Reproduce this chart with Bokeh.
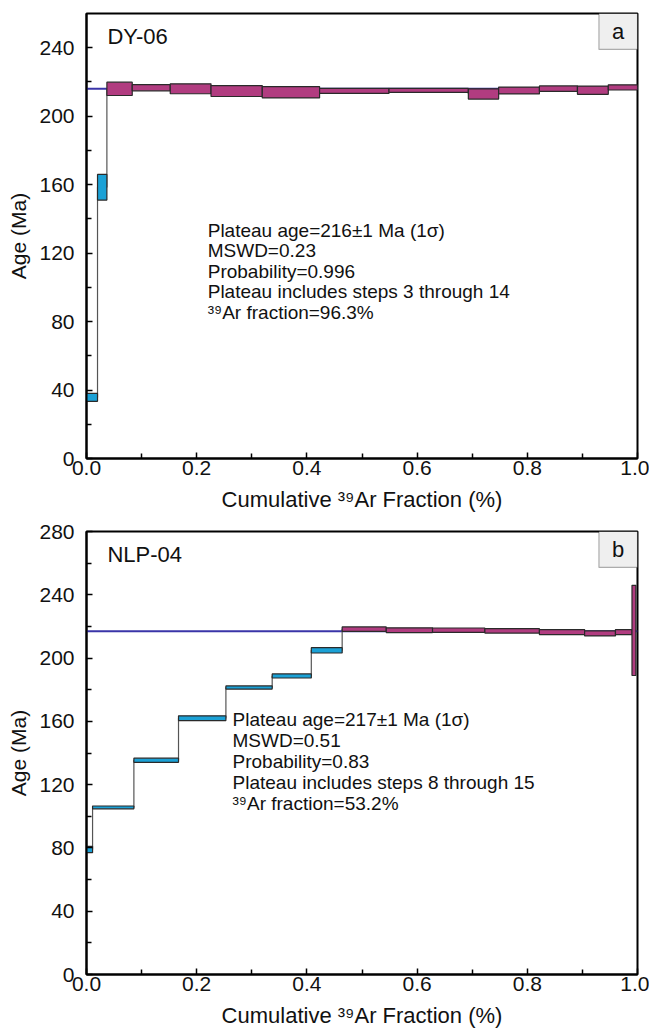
from bokeh.plotting import figure
from bokeh.layouts import column
from bokeh.models import FixedTicker, PrintfTickFormatter, Range1d, Label, BoxAnnotation
from bokeh.embed import file_html
from bokeh.resources import INLINE

# ---------------- data ----------------
# DY-06 (panel a): cumulative 39Ar fraction edges, age (Ma), 1-sigma error
a_left  = [0.000, 0.020, 0.037, 0.083, 0.152, 0.226, 0.319, 0.423, 0.549, 0.693, 0.748, 0.822, 0.891, 0.947]
a_right = [0.020, 0.037, 0.083, 0.152, 0.226, 0.319, 0.423, 0.549, 0.693, 0.748, 0.822, 0.891, 0.947, 1.000]
a_age   = [35.7, 158.5, 216.0, 216.6, 216.0, 214.7, 214.0, 214.8, 215.1, 213.0, 215.0, 216.1, 215.2, 216.8]
a_err   = [2.3, 7.5, 3.9, 1.8, 2.9, 3.2, 3.3, 1.5, 1.2, 3.0, 2.0, 1.6, 2.4, 1.5]
a_plateau_steps = (3, 14)
a_plateau_age = 216
a_text = ["Plateau age=216±1 Ma (1σ)", "MSWD=0.23", "Probability=0.996",
          "Plateau includes steps 3 through 14", "³⁹Ar fraction=96.3%"]

# NLP-04 (panel b)
b_left  = [0.000, 0.011, 0.086, 0.167, 0.253, 0.337, 0.408, 0.464, 0.544, 0.628, 0.723, 0.822, 0.904, 0.960, 0.990]
b_right = [0.011, 0.086, 0.167, 0.253, 0.337, 0.408, 0.464, 0.544, 0.628, 0.723, 0.822, 0.904, 0.960, 0.990, 0.997]
b_age   = [79.0, 105.6, 135.4, 162.0, 181.4, 188.7, 204.9, 218.3, 217.6, 217.6, 217.2, 216.4, 215.6, 216.4, 217.5]
b_err   = [2.0, 0.9, 1.3, 1.5, 1.0, 1.3, 1.7, 1.4, 1.5, 1.4, 1.4, 1.6, 1.6, 1.6, 28.5]
b_plateau_steps = (8, 15)
b_plateau_age = 217
b_text = ["Plateau age=217±1 Ma (1σ)", "MSWD=0.51", "Probability=0.83",
          "Plateau includes steps 8 through 15", "³⁹Ar fraction=53.2%"]

x_ticks = [0.0, 0.2, 0.4, 0.6, 0.8, 1.0]
x_minor = [0.1, 0.3, 0.5, 0.7, 0.9]

PLAT_COL = "#B13C80"
PRE_COL = "#1BA1D6"
LINE_COL = "#3A35A8"
FONT = "Liberation Sans"


def make_panel(name, tag, left, right, age, err, steps, pl_age, texts, ymax,
               height, top_b, bot_b, text_x, text_y0, text_dy, tagbox_h):
    p = figure(width=649, height=height, output_backend="svg", toolbar_location=None,
               x_range=Range1d(0, 1), y_range=Range1d(0, ymax),
               min_border_left=86, min_border_right=12,
               min_border_top=top_b, min_border_bottom=bot_b)
    p.grid.visible = False
    p.outline_line_color = "black"
    p.outline_line_width = 2
    p.background_fill_color = "white"
    p.border_fill_color = "white"

    # plateau line
    p.line([0, 1], [pl_age, pl_age], line_color=LINE_COL, line_width=2)

    # connecting step line through step ages
    xs, ys = [], []
    for l, r, a in zip(left, right, age):
        xs += [l, r]
        ys += [a, a]
    p.line(xs, ys, line_color="#555555", line_width=1.2)

    cols = [PLAT_COL if steps[0] <= i + 1 <= steps[1] else PRE_COL for i in range(len(age))]
    p.quad(left=left, right=right,
           bottom=[a - e for a, e in zip(age, err)],
           top=[a + e for a, e in zip(age, err)],
           fill_color=cols, line_color="#2a2a2a", line_width=1.2)

    # axes
    for ax in (p.xaxis[0], p.yaxis[0]):
        ax.axis_line_width = 2
        ax.major_tick_in = 6
        ax.major_tick_out = 0
        ax.minor_tick_in = 5
        ax.minor_tick_out = 0
        ax.major_tick_line_width = 1.5
        ax.minor_tick_line_width = 1.5
        ax.major_label_text_font = FONT
        ax.major_label_text_font_size = "21px"
        ax.major_label_text_color = "#111111"
        ax.axis_label_text_font = FONT
        ax.axis_label_text_font_style = "normal"
        ax.axis_label_text_color = "#111111"
    p.xaxis.ticker = FixedTicker(ticks=x_ticks, minor_ticks=x_minor)
    p.xaxis.formatter = PrintfTickFormatter(format="%.1f")
    p.xaxis.axis_label = "Cumulative ³⁹Ar Fraction (%)"
    p.xaxis.axis_label_text_font_size = "22px"
    p.xaxis.major_label_standoff = 2
    p.xaxis.axis_label_standoff = 9
    yt = list(range(0, ymax + 1, 40))
    ym = list(range(20, ymax, 40))
    p.yaxis.ticker = FixedTicker(ticks=yt, minor_ticks=ym)
    p.yaxis.axis_label = "Age (Ma)"
    p.yaxis.axis_label_text_font_size = "21px"
    p.yaxis.major_label_standoff = 12
    p.yaxis.axis_label_standoff = 6

    # sample name
    p.add_layout(Label(x=0.038, y=ymax, y_offset=-10, text=name, text_font=FONT,
                       text_font_size="22px", text_baseline="top", text_color="#111111"))
    # corner tag box
    p.add_layout(BoxAnnotation(left=0.93, right=1.0, top=ymax, bottom=ymax - tagbox_h,
                               fill_color="#efefef", fill_alpha=1.0,
                               line_color="black", line_width=1.2, level="overlay"))
    p.add_layout(Label(x=0.965, y=ymax - tagbox_h / 2, text=tag, text_font=FONT,
                       text_font_size="22px", text_align="center", text_baseline="middle",
                       text_color="#111111", level="overlay"))
    # annotation text
    for i, t in enumerate(texts):
        p.add_layout(Label(x=text_x, y=text_y0 - i * text_dy, text=t, text_font=FONT,
                           text_font_size="19px", text_baseline="middle", text_color="#111111"))
    return p


p1 = make_panel("DY-06", "a", a_left, a_right, a_age, a_err, a_plateau_steps, a_plateau_age,
                a_text, 260, 518, 13, 60, 0.22, 133.5, 12.0, 21)
p2 = make_panel("NLP-04", "b", b_left, b_right, b_age, b_err, b_plateau_steps, b_plateau_age,
                b_text, 280, 512, 13, 55, 0.265, 161, 13.2, 22.7)

layout = column(p1, p2, spacing=0)
open("out.html", "w").write(file_html(layout, INLINE))
